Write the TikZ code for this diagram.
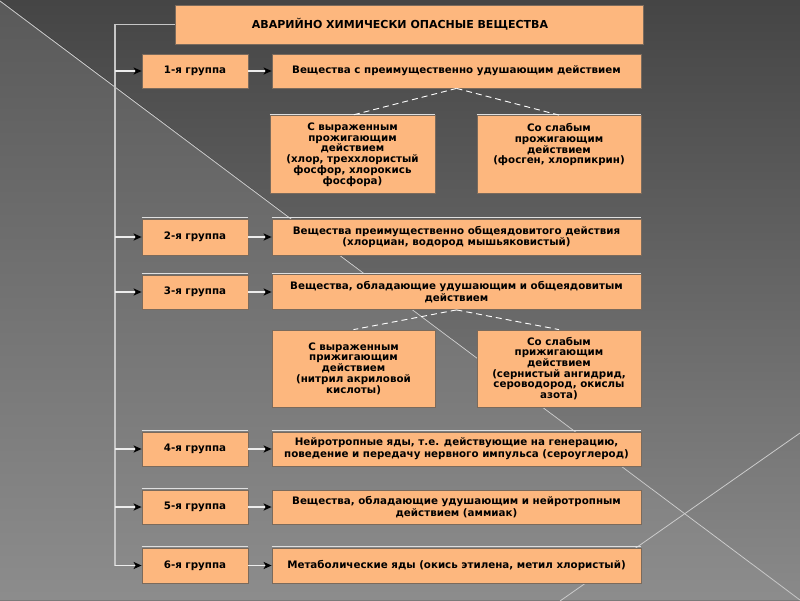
\documentclass[tikz,border=0pt]{standalone}
\usepackage{fontspec}
\setmainfont{DejaVu Sans}
\usetikzlibrary{arrows.meta}
\definecolor{peach}{HTML}{FDB77E}
\definecolor{rimc}{HTML}{7A6A5C}
\tikzset{
  box/.style={draw=rimc, line width=0.8pt, fill=peach, inner sep=2pt, align=center,
    font=\fontsize{10.3}{11.8}\selectfont\bfseries},
  grp/.style={box, minimum width=106pt, minimum height=34pt},
  desc/.style={box, minimum width=369pt, minimum height=35pt},
  sub/.style={box, minimum width=164pt, minimum height=77pt,
    font=\fontsize{10.3}{10.7}\selectfont\bfseries},
  feed/.style={draw=white!85!gray, line width=1.3pt,
    -{Stealth[length=8pt,width=7pt,inset=2pt,black]}},
  trunk/.style={draw=white!55!gray, line width=1.1pt},
  split/.style={draw=white, line width=0.9pt, dash pattern=on 6pt off 4pt},
  rim/.style={draw=white!75!gray, line width=1.2pt},
  glint/.style={draw=white!60!gray, line width=0.8pt},
}
\begin{document}
\begin{tikzpicture}[x=1pt,y=-1pt]
\useasboundingbox (0,0) rectangle (800,600);
% background
\fill[top color=black!73, bottom color=black!46] (0,0) rectangle (800,600);
\fill[top color=black!65, bottom color=black!45] (0,0) -- (800,600) -- (0,600) -- cycle;
\draw[glint] (0,1) -- (800,600);
\draw[glint] (800,433) -- (560,601);
% title
\node[box, minimum width=468pt, minimum height=39pt, font=\fontsize{11}{13}\selectfont\bfseries]
  (title) at (409,24.5) {АВАРИЙНО ХИМИЧЕСКИ ОПАСНЫЕ ВЕЩЕСТВА\hspace*{18pt}};
% groups
\node[grp] (g1) at (195,71) {1-я группа};
\node[grp, minimum height=36pt] (g2) at (195,237) {2-я группа};
\node[grp] (g3) at (195,292) {3-я группа};
\node[grp] (g4) at (195,449) {4-я группа};
\node[grp] (g5) at (195,507) {5-я группа};
\node[grp, minimum height=35pt] (g6) at (195,565.5) {6-я группа};
% descriptions
\node[desc, minimum height=34pt] (d1) at (456.5,71) {Вещества с преимущественно удушающим действием};
\node[desc, minimum height=36pt] (d2) at (456.5,237) {Вещества преимущественно общеядовитого действия\\(хлорциан, водород мышьяковистый)};
\node[desc] (d3) at (456.5,292) {Вещества, обладающие удушающим и общеядовитым\\действием};
\node[desc, minimum height=34pt] (d4) at (456.5,449) {Нейротропные яды, т.е. действующие на генерацию,\\поведение и передачу нервного импульса (сероуглерод)};
\node[desc, minimum height=34pt] (d5) at (456.5,507) {Вещества, обладающие удушающим и нейротропным\\действием (аммиак)};
\node[desc] (d6) at (456.5,565.5) {Метаболические яды (окись этилена, метил хлористый)};
% subgroups
\node[sub, minimum width=165pt, minimum height=78pt] (s1a) at (352.5,154.5)
  {С выраженным\\прожигающим\\действием\\(хлор, треххлористый\\фосфор, хлорокись\\фосфора)};
\node[sub, minimum height=78pt] (s1b) at (559,154.5)
  {Со слабым\\прожигающим\\действием\\(фосген, хлорпикрин)\\~\\~};
\node[sub, minimum width=163pt] (s3a) at (353.5,368.5)
  {С выраженным\\прижигающим\\действием\\(нитрил акриловой\\кислоты)};
\node[sub] (s3b) at (559,368.5)
  {Со слабым\\прижигающим\\действием\\(сернистый ангидрид,\\сероводород, окислы\\азота)};
% light top edges
\foreach \n in {g2,g3,g4,g5,g6,d2,d3,d4,d6,s1a,s1b}
  \draw[rim] ([yshift=1pt]\n.north west) -- ([yshift=1pt]\n.north east);
% connectors
\coordinate (bus) at (115,0);
\draw[trunk] (title.west) -- (title.west -| bus) -- (g6.west -| bus);
\foreach \k in {1,...,6} {
  \draw[feed] (g\k.west -| bus) -- (g\k.west);
  \draw[feed] (g\k.east) -- (d\k.west);
}
\draw[split] (d1.south) -- (s1a.north);
\draw[split] (d1.south) -- (s1b.north);
\draw[split] (d3.south) -- (s3a.north);
\draw[split] (d3.south) -- (s3b.north);
\end{tikzpicture}
\end{document}
